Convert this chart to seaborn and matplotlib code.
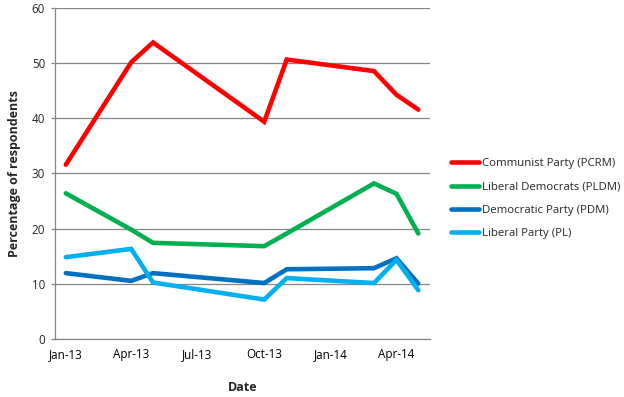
import pandas as pd
import matplotlib.pyplot as plt
import seaborn as sns

# Datos (encuesta por mes)
months = ['2013-01', '2013-04', '2013-05', '2013-10', '2013-11', '2014-03', '2014-04', '2014-05']
parties = ['Communist Party (PCRM)', 'Liberal Democrats (PLDM)',
           'Democratic Party (PDM)', 'Liberal Party (PL)']
pcrm = [31.6, 50.2, 53.8, 39.4, 50.7, 48.6, 44.3, 41.6]
pldm = [26.4, 19.8, 17.4, 16.8, 19.1, 28.2, 26.3, 19.1]
pdm = [11.9, 10.5, 11.9, 10.1, 12.6, 12.8, 14.6, 10.0]
pl = [14.8, 16.3, 10.2, 7.1, 11.0, 10.1, 14.3, 8.8]
colors = ['#FF0000', '#00B050', '#0070C0', '#00B0F0']

tick_months = ['2013-01', '2013-04', '2013-07', '2013-10', '2014-01', '2014-04']
tick_labels = ['Jan-13', 'Apr-13', 'Jul-13', 'Oct-13', 'Jan-14', 'Apr-14']
y_ticks = [0, 10, 20, 30, 40, 50, 60]

# Tabla larga para seaborn; cada punto va a mitad de su mes (eje de fechas estilo Excel)
mid = pd.to_datetime(months) + pd.Timedelta(days=15)
df = pd.concat([
    pd.DataFrame({'Date': mid, 'Value': vals, 'Party': name})
    for name, vals in zip(parties, [pcrm, pldm, pdm, pl])
])

sns.set_style('white')
plt.rcParams['font.family'] = ['Open Sans', 'DejaVu Sans']

fig = plt.figure(figsize=(6.24, 3.97), dpi=100)
ax = fig.add_axes([0.088, 0.147, 0.601, 0.832])

sns.lineplot(data=df, x='Date', y='Value', hue='Party', hue_order=parties,
             palette=dict(zip(parties, colors)), linewidth=3.3, ax=ax,
             solid_joinstyle='miter')

ax.set_xlim(pd.Timestamp('2013-01-01'), pd.Timestamp('2014-06-01'))
ax.set_ylim(0, 60)
ax.set_yticks(y_ticks)
ax.yaxis.grid(True, color='#868686', linewidth=0.9)
ax.set_axisbelow(True)

# Marcas en el inicio de cada trimestre, etiquetas centradas en el mes
ticks = pd.to_datetime(tick_months)
ax.set_xticks(ticks)
ax.set_xticklabels([])
ax.set_xticks(ticks + pd.Timedelta(days=15), minor=True)
ax.set_xticklabels(tick_labels, minor=True)
ax.tick_params(axis='x', which='major', length=4, width=0.9, color='#868686', direction='out')
ax.tick_params(axis='x', which='minor', length=0, labelsize=8.4, pad=7, labelcolor='black')
ax.tick_params(axis='y', length=3, width=0.9, color='#868686', labelsize=8.4, pad=4, left=True)

for side in ['top', 'right']:
    ax.spines[side].set_visible(False)
for side in ['left', 'bottom']:
    ax.spines[side].set_color('#868686')
    ax.spines[side].set_linewidth(0.9)

ax.set_xlabel('Date', fontsize=9, fontweight='bold', labelpad=14)
ax.set_ylabel('Percentage of respondents', fontsize=9, fontweight='bold', labelpad=8)

ax.legend(loc='center left', bbox_to_anchor=(1.044, 0.423), frameon=False,
          fontsize=8.2, handlelength=2.5, handletextpad=0.2, labelspacing=1.08,
          borderaxespad=0)

fig.savefig('out.png', dpi=100)
